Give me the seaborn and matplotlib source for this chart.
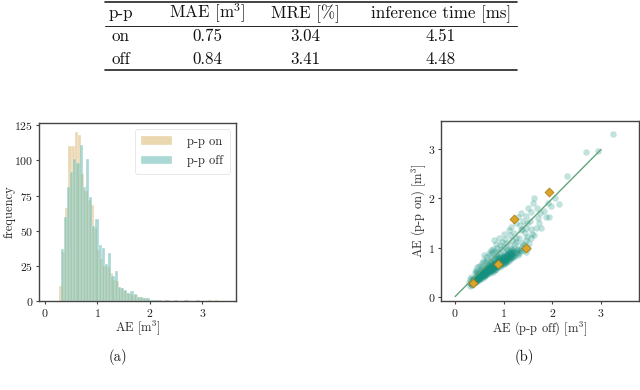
import numpy as np
import pandas as pd
import matplotlib
matplotlib.use("Agg")
import matplotlib.pyplot as plt
from matplotlib.lines import Line2D
import seaborn as sns

# ---------------- data ----------------
table_header = ["p-p", "MAE [m$^3$]", "MRE [%]", "inference time [ms]"]
table_rows = [["on", "0.75", "3.04", "4.51"],
              ["off", "0.84", "3.41", "4.48"]]

bin_width = 0.0605
on_bin_start = 0.27
off_bin_start = 0.30
on_counts = [11, 35, 66, 110, 110, 120, 118, 90, 78, 72, 68, 52, 36, 30, 25, 24, 20, 15, 14, 9,
             7, 6, 5, 4, 4, 3, 2, 2, 1, 1, 1, 1, 0, 1, 1, 0, 1, 0, 0, 0,
             1, 0, 0, 1, 0, 0, 0, 1, 0, 1]
off_counts = [37, 60, 81, 92, 101, 98, 111, 81, 101, 74, 53, 58, 40, 38, 26, 34, 18, 21, 10, 9,
              8, 6, 7, 5, 3, 3, 2, 2, 1, 1, 1, 1, 0, 1, 0, 0, 1, 0, 0, 1,
              0, 0, 0, 1, 0, 0, 0, 0, 0, 0]

# (AE p-p off, AE p-p on) pairs
scatter_points = [
    (0.31, 0.22), (0.33, 0.25), (0.36, 0.28), (0.38, 0.30), (0.34, 0.33), (0.32, 0.27), (0.39, 0.35),
    (0.37, 0.31), (0.35, 0.24), (0.40, 0.29), (0.36, 0.36), (0.39, 0.38), (0.33, 0.26), (0.38, 0.32),
    (0.41, 0.30), (0.43, 0.33), (0.45, 0.36), (0.47, 0.39), (0.44, 0.42), (0.48, 0.45), (0.42, 0.35),
    (0.46, 0.38), (0.49, 0.41), (0.44, 0.32), (0.47, 0.44), (0.43, 0.48), (0.50, 0.37), (0.45, 0.40),
    (0.41, 0.34), (0.48, 0.43), (0.46, 0.50), (0.42, 0.55), (0.49, 0.34), (0.44, 0.39),
    (0.51, 0.36), (0.53, 0.40), (0.55, 0.43), (0.57, 0.46), (0.52, 0.49), (0.58, 0.52), (0.54, 0.42),
    (0.56, 0.45), (0.59, 0.48), (0.53, 0.55), (0.57, 0.38), (0.51, 0.50), (0.55, 0.58), (0.58, 0.44),
    (0.52, 0.47), (0.60, 0.53), (0.54, 0.62), (0.56, 0.68), (0.59, 0.41), (0.55, 0.51), (0.53, 0.45),
    (0.57, 0.49),
    (0.61, 0.42), (0.63, 0.46), (0.65, 0.50), (0.67, 0.53), (0.62, 0.56), (0.68, 0.60), (0.64, 0.48),
    (0.66, 0.52), (0.69, 0.55), (0.63, 0.58), (0.67, 0.63), (0.61, 0.45), (0.65, 0.66), (0.62, 0.70),
    (0.66, 0.75), (0.64, 0.80), (0.70, 0.57), (0.68, 0.61), (0.66, 0.47), (0.62, 0.51), (0.69, 0.50),
    (0.64, 0.54), (0.67, 0.58),
    (0.71, 0.48), (0.73, 0.52), (0.75, 0.56), (0.77, 0.60), (0.72, 0.63), (0.78, 0.66), (0.74, 0.70),
    (0.76, 0.54), (0.79, 0.58), (0.73, 0.62), (0.77, 0.68), (0.71, 0.73), (0.75, 0.78), (0.72, 0.85),
    (0.76, 0.90), (0.78, 0.65), (0.74, 0.59), (0.80, 0.55), (0.79, 0.62), (0.72, 0.57), (0.75, 0.64),
    (0.77, 0.51), (0.73, 0.95),
    (0.81, 0.55), (0.83, 0.58), (0.85, 0.62), (0.87, 0.65), (0.82, 0.69), (0.88, 0.72), (0.84, 0.76),
    (0.86, 0.60), (0.89, 0.64), (0.83, 0.67), (0.87, 0.71), (0.81, 0.80), (0.85, 0.86), (0.82, 0.93),
    (0.86, 1.00), (0.84, 1.08), (0.88, 0.74), (0.90, 0.68), (0.85, 0.57), (0.89, 0.78), (0.83, 0.63),
    (0.87, 0.82),
    (0.91, 0.60), (0.93, 0.64), (0.95, 0.68), (0.97, 0.72), (0.92, 0.76), (0.98, 0.80), (0.94, 0.66),
    (0.96, 0.70), (0.99, 0.74), (0.93, 0.78), (0.97, 0.85), (0.91, 0.90), (0.95, 0.97), (0.92, 1.05),
    (0.96, 1.12), (0.98, 0.82), (1.00, 0.77), (0.94, 0.62), (0.99, 0.67), (0.92, 0.71),
    (1.01, 0.66), (1.03, 0.70), (1.05, 0.74), (1.07, 0.78), (1.02, 0.82), (1.08, 0.86), (1.04, 0.72),
    (1.06, 0.76), (1.09, 0.80), (1.03, 0.88), (1.07, 0.95), (1.01, 1.02), (1.05, 1.10), (1.02, 1.18),
    (1.08, 0.84), (1.10, 0.90), (1.04, 0.68), (1.06, 0.98),
    (1.11, 0.72), (1.13, 0.76), (1.15, 0.80), (1.17, 0.84), (1.12, 0.88), (1.18, 0.92), (1.14, 0.78),
    (1.16, 0.86), (1.19, 0.95), (1.13, 1.05), (1.17, 1.15), (1.12, 1.25), (1.20, 0.82), (1.15, 0.98),
    (1.21, 0.80), (1.23, 0.85), (1.25, 0.90), (1.27, 0.95), (1.22, 1.00), (1.28, 0.88), (1.24, 1.08),
    (1.26, 1.20), (1.22, 1.30), (1.29, 0.98), (1.25, 1.12),
    (1.31, 0.88), (1.33, 0.95), (1.35, 1.00), (1.37, 1.10), (1.32, 1.20), (1.36, 1.35), (1.34, 1.45),
    (1.39, 1.05), (1.38, 1.38),
    (1.42, 0.95), (1.44, 1.05), (1.46, 1.15), (1.43, 1.30), (1.48, 1.50), (1.47, 1.22), (1.45, 1.40),
    (1.52, 1.10), (1.55, 1.20), (1.57, 1.38), (1.53, 1.55), (1.58, 1.28),
    (1.62, 1.25), (1.66, 1.40), (1.70, 1.60), (1.74, 1.70), (1.62, 2.01), (1.68, 1.80), (1.77, 1.39),
    (1.72, 1.50),
    (1.86, 1.62), (1.94, 1.62), (1.90, 1.90), (1.98, 1.85), (2.13, 1.89), (2.05, 2.00), (1.82, 1.75),
    (2.30, 2.46), (2.70, 2.95), (2.94, 2.97), (3.24, 3.31),
    # dense core
    (0.35, 0.30), (0.37, 0.27), (0.39, 0.33), (0.41, 0.31), (0.43, 0.36), (0.45, 0.34), (0.36, 0.34),
    (0.40, 0.36), (0.42, 0.29), (0.44, 0.37), (0.38, 0.29), (0.46, 0.33),
    (0.47, 0.36), (0.49, 0.39), (0.51, 0.42), (0.53, 0.38), (0.55, 0.46), (0.57, 0.41), (0.59, 0.45),
    (0.48, 0.40), (0.50, 0.44), (0.52, 0.41), (0.54, 0.48), (0.56, 0.43), (0.58, 0.49), (0.60, 0.47),
    (0.50, 0.35), (0.54, 0.39),
    (0.61, 0.49), (0.63, 0.52), (0.65, 0.47), (0.67, 0.55), (0.69, 0.52), (0.71, 0.58), (0.73, 0.55),
    (0.75, 0.61), (0.77, 0.57), (0.79, 0.64), (0.62, 0.53), (0.64, 0.57), (0.66, 0.56), (0.68, 0.50),
    (0.70, 0.62), (0.72, 0.60), (0.74, 0.53), (0.76, 0.66), (0.78, 0.62), (0.80, 0.60),
    (0.81, 0.62), (0.83, 0.66), (0.85, 0.70), (0.87, 0.61), (0.89, 0.70), (0.91, 0.66), (0.93, 0.72),
    (0.95, 0.75), (0.97, 0.69), (0.99, 0.79), (0.82, 0.73), (0.84, 0.64), (0.86, 0.68), (0.88, 0.78),
    (0.90, 0.73), (0.92, 0.80), (0.94, 0.73), (0.96, 0.78), (0.98, 0.74), (1.00, 0.83),
    (1.01, 0.75), (1.03, 0.79), (1.05, 0.81), (1.07, 0.73), (1.09, 0.85), (1.11, 0.80), (1.13, 0.83),
    (1.15, 0.88), (1.17, 0.81), (1.19, 0.89), (1.02, 0.71), (1.04, 0.84), (1.06, 0.86), (1.08, 0.80),
    (1.10, 0.77), (1.12, 0.93), (1.14, 0.86), (1.16, 0.91),
    # halo
    (0.50, 0.62), (0.58, 0.72), (0.60, 0.85), (0.70, 0.88), (0.78, 0.98), (0.80, 1.15), (0.90, 1.20),
    (1.00, 1.28), (1.10, 1.35), (1.15, 1.42), (1.30, 1.62), (1.35, 1.70), (1.45, 1.65), (1.50, 1.80),
    (1.55, 1.72), (1.60, 1.90), (1.25, 1.50), (1.40, 1.55), (1.30, 0.85), (1.45, 0.90), (1.50, 1.00),
    (1.35, 0.92), (0.45, 0.60), (0.40, 0.50), (0.30, 0.35), (0.28, 0.30), (0.32, 0.40),
]
highlight_off = [0.37, 0.88, 1.21, 1.45, 1.92]
highlight_on = [0.28, 0.67, 1.58, 0.99, 2.13]
identity_line = [0.0, 3.0]

ticks = [0, 1, 2, 3]

# ---------------- style ----------------
sns.set_theme(style="ticks")
plt.rcParams["font.family"] = ["serif"]
plt.rcParams["font.serif"] = ["cmr10", "DejaVu Serif"]
plt.rcParams["mathtext.fontset"] = "cm"
plt.rcParams["axes.formatter.use_mathtext"] = True
plt.rcParams["axes.edgecolor"] = "#444444"
plt.rcParams["axes.linewidth"] = 1.0
plt.rcParams["xtick.color"] = "#444444"
plt.rcParams["ytick.color"] = "#444444"
plt.rcParams["xtick.labelcolor"] = "#222222"
plt.rcParams["ytick.labelcolor"] = "#222222"

W, H = 640, 390
fig = plt.figure(figsize=(6.4, 3.9), dpi=100)

def fx(px):
    return px / W

def fy(py):
    return 1 - py / H

# ---------------- table ----------------
tx0, tx1 = 105, 517
fig.add_artist(Line2D([fx(tx0), fx(tx1)], [fy(2), fy(2)], color="#222222", lw=1.2))
fig.add_artist(Line2D([fx(tx0), fx(tx1)], [fy(25.5), fy(25.5)], color="#222222", lw=0.7))
fig.add_artist(Line2D([fx(tx0), fx(tx1)], [fy(70), fy(70)], color="#222222", lw=1.2))
col_x = [121, 207, 305, 441]
row_base = [18.3, 41.3, 64.3]
for j, txt in enumerate(table_header):
    fig.text(fx(col_x[j]), fy(row_base[0]), txt, ha="center", va="baseline", fontsize=12.2, color="#111111")
for i, row in enumerate(table_rows):
    for j, txt in enumerate(row):
        fig.text(fx(col_x[j]), fy(row_base[i + 1]), txt, ha="center", va="baseline", fontsize=12.2, color="#111111")

# ---------------- histogram ----------------
ax1 = fig.add_axes([fx(39), fy(301), fx(236 - 39), (301 - 123) / H])
on_edges = [on_bin_start + k * bin_width for k in range(len(on_counts) + 1)]
off_edges = [off_bin_start + k * bin_width for k in range(len(off_counts) + 1)]
on_centers = [on_bin_start + (k + 0.5) * bin_width for k in range(len(on_counts))]
off_centers = [off_bin_start + (k + 0.5) * bin_width for k in range(len(off_counts))]
on_color = "#D8B365"
off_color = "#5AB4AC"
sns.histplot(x=on_centers, weights=on_counts, bins=on_edges, ax=ax1, color=on_color,
             alpha=0.5, edgecolor="white", linewidth=0.2, label="p-p on")
sns.histplot(x=off_centers, weights=off_counts, bins=off_edges, ax=ax1, color=off_color,
             alpha=0.5, edgecolor="white", linewidth=0.2, label="p-p off")
ax1.set_xlim(-0.11, 3.64)
ax1.set_ylim(0, 126.6)
ax1.set_xticks(ticks)
ax1.set_yticks([0, 25, 50, 75, 100, 125])
ax1.set_xlabel("AE [m$^3$]", fontsize=9)
ax1.set_ylabel("frequency", fontsize=9)
ax1.xaxis.set_label_coords(0.5, -0.1)
ax1.yaxis.set_label_coords(-0.12, 0.5)
ax1.tick_params(labelsize=8.5, length=2.5, width=0.8, pad=1.5)
leg = ax1.legend(loc="upper right", fontsize=9, frameon=True, fancybox=True,
                 borderpad=0.5, handlelength=2.5, labelspacing=0.6, handletextpad=1.2)
leg.get_frame().set_edgecolor("#dddddd")
leg.get_frame().set_linewidth(0.6)

# ---------------- scatter ----------------
ax2 = fig.add_axes([fx(441), fy(301), fx(639 - 441), (301 - 121) / H])
df = pd.DataFrame(scatter_points, columns=["off", "on"])
sns.scatterplot(data=df, x="off", y="on", ax=ax2, color="#15907f", alpha=0.26,
                s=22, linewidth=0, zorder=2)
sns.lineplot(x=identity_line, y=identity_line, ax=ax2, color="#5fa57d", lw=1.0, zorder=3)
sns.scatterplot(x=highlight_off, y=highlight_on, ax=ax2, color="#D9A52A", marker="D",
                s=20, edgecolor="#b07d10", linewidth=0.6, zorder=4)
ax2.set_xlim(-0.29, 3.78)
ax2.set_ylim(-0.09, 3.58)
ax2.set_xticks(ticks)
ax2.set_yticks(ticks)
ax2.set_xlabel("AE (p-p off) [m$^3$]", fontsize=9)
ax2.set_ylabel("AE (p-p on) [m$^3$]", fontsize=9)
ax2.xaxis.set_label_coords(0.5, -0.1)
ax2.yaxis.set_label_coords(-0.068, 0.5)
ax2.tick_params(labelsize=8.5, length=2.5, width=0.8, pad=1.5)

# ---------------- captions ----------------
fig.text(fx(118), fy(357), "(a)", ha="center", va="center", fontsize=10.5, color="#111111")
fig.text(fx(524), fy(357), "(b)", ha="center", va="center", fontsize=10.5, color="#111111")

fig.savefig("out.png", dpi=100)
